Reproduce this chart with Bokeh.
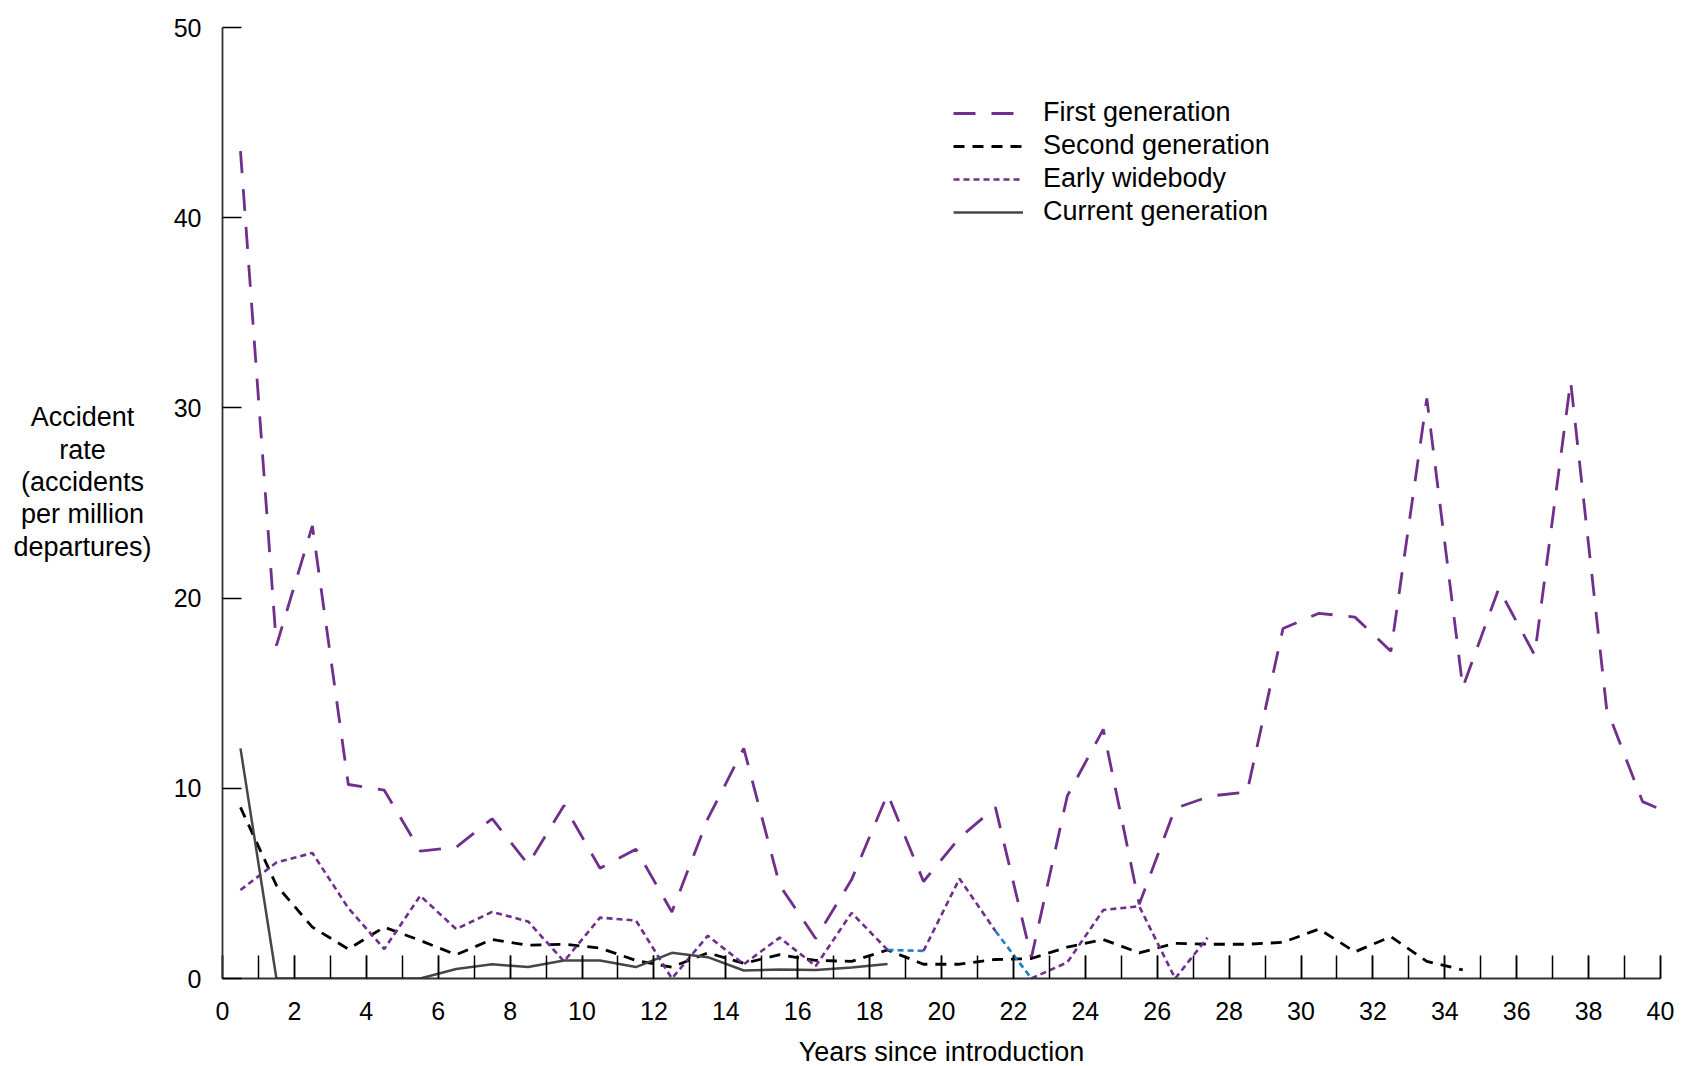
from bokeh.plotting import figure
from bokeh.models import (Legend, LegendItem, Label, SingleIntervalTicker,
                          ColumnDataSource)
from bokeh.layouts import row
from bokeh.embed import file_html
from bokeh.resources import INLINE

# ---------------- data ----------------
first_x = [0.5, 1.5, 2.5, 3.5, 4.5, 5.5, 6.5, 7.5, 8.5, 9.5,
           10.5, 11.5, 12.5, 13.5, 14.5, 15.5, 16.5, 17.5, 18.5, 19.5,
           20.5, 21.5, 22.5, 23.5, 24.5, 25.5, 26.5, 27.5, 28.5, 29.5,
           30.5, 31.5, 32.5, 33.5, 34.5, 35.5, 36.5, 37.5, 38.5, 39.5, 40.0]
first_gen = [43.5, 17.5, 23.8, 10.2, 9.9, 6.7, 6.9, 8.4, 6.0, 9.1,
             5.8, 6.8, 3.5, 8.4, 12.1, 4.9, 2.1, 5.2, 9.7, 5.1,
             7.4, 9.0, 1.1, 9.6, 13.1, 3.9, 8.95, 9.6, 9.8, 18.4,
             19.2, 19.0, 17.2, 30.5, 15.3, 20.5, 17.0, 31.4, 14.2, 9.3, 8.9]

second_x = [0.5, 1.5, 2.5, 3.5, 4.5, 5.5, 6.5, 7.5, 8.5, 9.5,
            10.5, 11.5, 12.5, 13.5, 14.5, 15.5, 16.5, 17.5, 18.5, 19.5,
            20.5, 21.5, 22.5, 23.5, 24.5, 25.5, 26.5, 27.5, 28.5, 29.5,
            30.5, 31.5, 32.5, 33.5, 34.5]
second_gen = [9.0, 4.9, 2.7, 1.55, 2.7, 2.0, 1.25, 2.05, 1.75, 1.8,
              1.6, 0.95, 0.6, 1.35, 0.8, 1.25, 0.95, 0.9, 1.5, 0.75,
              0.75, 1.0, 1.05, 1.65, 2.05, 1.35, 1.85, 1.8, 1.8, 1.9,
              2.6, 1.4, 2.2, 0.9, 0.45]

wide_x = [0.5, 1.5, 2.5, 3.5, 4.5, 5.5, 6.5, 7.5, 8.5, 9.5,
          10.5, 11.5, 12.5, 13.5, 14.5, 15.5, 16.5, 17.5, 18.5, 19.5,
          20.5, 21.5, 22.5, 23.5, 24.5, 25.5, 26.5, 27.4]
early_widebody = [4.65, 6.1, 6.6, 3.7, 1.55, 4.35, 2.6, 3.5, 3.0, 0.9,
                  3.2, 3.05, 0.0, 2.25, 0.75, 2.15, 0.65, 3.45, 1.5, 1.45,
                  5.25, 2.5, 0.0, 0.85, 3.6, 3.8, 0.0, 2.15]
# segments of the early-widebody line drawn in blue in the reference
wide_blue_segments = [18, 21]

current_x = [0.5, 1.5, 2.5, 3.5, 4.5, 5.5, 6.5, 7.5, 8.5, 9.5,
             10.5, 11.5, 12.5, 13.5, 14.5, 15.5, 16.5, 17.5, 18.5]
current_gen = [12.1, 0.0, 0.0, 0.0, 0.0, 0.0, 0.5, 0.75, 0.6, 0.95,
               0.95, 0.6, 1.35, 1.12, 0.42, 0.47, 0.45, 0.58, 0.76]

series_names = ["First generation", "Second generation",
                "Early widebody", "Current generation"]
y_title = "Accident\nrate\n(accidents\nper million\ndepartures)"
x_title = "Years since introduction"

# ---------------- styling ----------------
FONT = "Liberation Sans"
PURPLE = "#702f8c"
BLUE = "#1f7fc0"
GRAY = "#464646"
LEFT_W = 160          # width of the side panel holding the y title

p = figure(frame_width=1438, frame_height=951,
           min_border_left=222 - LEFT_W, min_border_right=36,
           min_border_top=27, min_border_bottom=88,
           x_range=(0, 40), y_range=(0, 50),
           output_backend="svg", toolbar_location=None,
           background_fill_color="white", border_fill_color="white")
p.outline_line_color = None
p.xgrid.grid_line_color = None
p.ygrid.grid_line_color = None

# axes
xa = p.xaxis[0]
xa.ticker = SingleIntervalTicker(interval=2, num_minor_ticks=2)
xa.major_tick_in = 23
xa.major_tick_out = 0
xa.minor_tick_in = 23
xa.minor_tick_out = 0
xa.major_tick_line_color = "black"
xa.minor_tick_line_color = "black"
xa.major_tick_line_width = 1.5
xa.minor_tick_line_width = 1.5
xa.axis_line_color = "#333333"
xa.axis_line_width = 1.8
xa.major_label_text_font = FONT
xa.major_label_text_font_size = "25px"
xa.major_label_text_color = "black"
xa.major_label_standoff = 23
xa.axis_label = x_title
xa.axis_label_text_font = FONT
xa.axis_label_text_font_size = "27px"
xa.axis_label_text_font_style = "normal"
xa.axis_label_text_color = "black"
xa.axis_label_standoff = 14

ya = p.yaxis[0]
ya.ticker = SingleIntervalTicker(interval=10, num_minor_ticks=0)
ya.major_tick_in = 19
ya.major_tick_out = 0
ya.minor_tick_in = 0
ya.minor_tick_out = 0
ya.major_tick_line_color = "black"
ya.major_tick_line_width = 1.5
ya.axis_line_color = "#333333"
ya.axis_line_width = 1.8
ya.major_label_text_font = FONT
ya.major_label_text_font_size = "25px"
ya.major_label_text_color = "black"
ya.major_label_standoff = 21

# lines
r_first = p.line(first_x, first_gen, line_color=PURPLE, line_width=2.8,
                 line_dash="22 16")
r_second = p.line(second_x, second_gen, line_color="black", line_width=2.8,
                  line_dash="11 8")

# early widebody: split into runs of same colour
seg_colors = [BLUE if i in wide_blue_segments else PURPLE
              for i in range(len(wide_x) - 1)]
runs_x, runs_y, runs_c = [], [], []
start = 0
for i in range(1, len(seg_colors) + 1):
    if i == len(seg_colors) or seg_colors[i] != seg_colors[start]:
        runs_x.append(wide_x[start:i + 1])
        runs_y.append(early_widebody[start:i + 1])
        runs_c.append(seg_colors[start])
        start = i
wide_src = ColumnDataSource(dict(xs=runs_x, ys=runs_y, color=runs_c))
r_wide = p.multi_line("xs", "ys", source=wide_src, line_color="color",
                      line_width=2.6, line_dash="6 4")

r_current = p.line(current_x, current_gen, line_color=GRAY, line_width=2.5)

legend = Legend(items=[
    LegendItem(label=series_names[0], renderers=[r_first]),
    LegendItem(label=series_names[1], renderers=[r_second]),
    LegendItem(label=series_names[2], renderers=[r_wide], index=0),
    LegendItem(label=series_names[3], renderers=[r_current]),
], location=(731, 751))
legend.border_line_color = None
legend.background_fill_alpha = 0
legend.padding = 0
legend.margin = 0
legend.spacing = 2
legend.glyph_width = 70
legend.glyph_height = 30
legend.label_height = 30
legend.label_standoff = 20
legend.label_text_font = FONT
legend.label_text_font_size = "27px"
legend.label_text_color = "black"
p.add_layout(legend, "center")

# side panel with the horizontal, centred multi-line y title
side = figure(width=LEFT_W, height=1066, x_range=(0, LEFT_W),
              y_range=(0, 1066), min_border=0,
              x_axis_location=None, y_axis_location=None,
              output_backend="svg", toolbar_location=None,
              background_fill_color="white", border_fill_color="white")
side.outline_line_color = None
side.xgrid.grid_line_color = None
side.ygrid.grid_line_color = None
side.add_layout(Label(x=82, y=555, text=y_title,
                      text_align="center", text_baseline="middle",
                      text_font=FONT, text_font_size="27px",
                      text_color="black", text_line_height=1.08))

layout = row(side, p, spacing=0)
open("out.html", "w").write(file_html(layout, INLINE))
